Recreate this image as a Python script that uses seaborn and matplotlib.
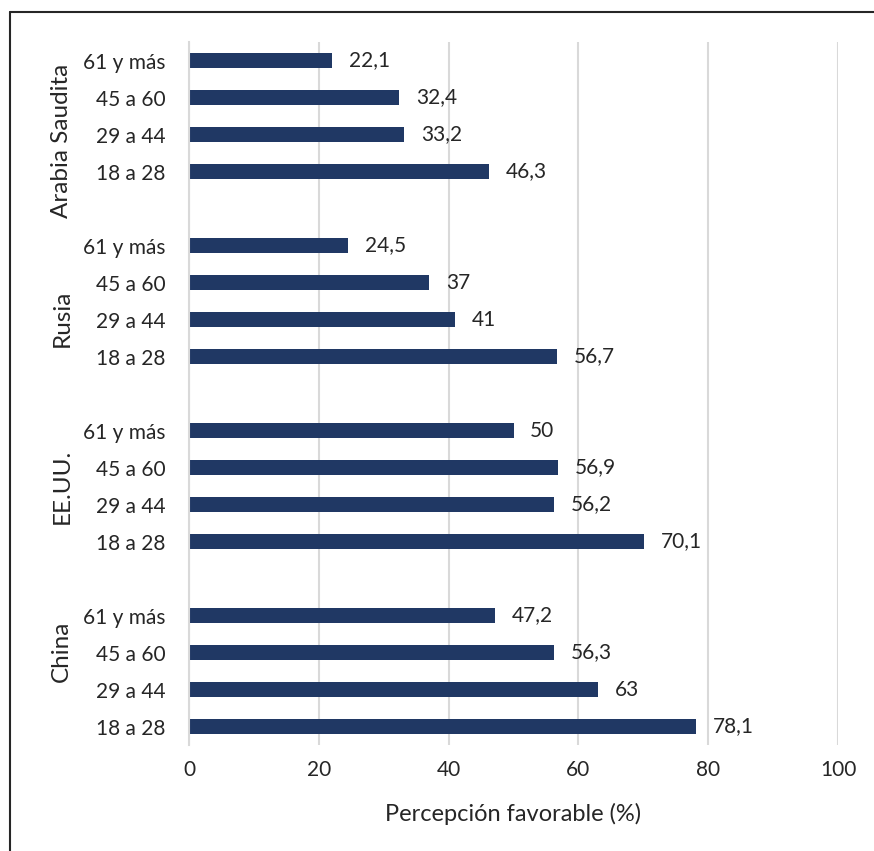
import matplotlib
matplotlib.use("Agg")
import matplotlib.pyplot as plt
import seaborn as sns
import pandas as pd
from matplotlib.lines import Line2D

countries = ["Arabia Saudita", "Rusia", "EE.UU.", "China"]
ages = ["61 y más", "45 a 60", "29 a 44", "18 a 28"]
arabia = [22.1, 32.4, 33.2, 46.3]
rusia = [24.5, 37, 41, 56.7]
eeuu = [50, 56.9, 56.2, 70.1]
china = [47.2, 56.3, 63, 78.1]
values = [arabia, rusia, eeuu, china]
x_ticks = [0, 20, 40, 60, 80, 100]

rows = []
order = []
for ci, (c, vals) in enumerate(zip(countries, values)):
    for a, v in zip(ages, vals):
        key = f"{c}|{a}"
        rows.append({"slot": key, "value": v})
        order.append(key)
    if ci < len(countries) - 1:
        order.append(f"gap{ci}")
df = pd.DataFrame(rows)

sns.set_theme(style="white")
plt.rcParams["font.family"] = ["Lato", "DejaVu Sans"]

W, H = 874, 851
fig = plt.figure(figsize=(W / 100, H / 100), dpi=100)
ax = fig.add_axes([189 / W, 1 - 745 / H, (838 - 189) / W, (745 - 42) / H])

bar_color = "#203864"
sns.barplot(data=df, x="value", y="slot", order=order, color=bar_color,
            width=0.38, saturation=1, orient="h", ax=ax, linewidth=0)

txt = "#262626"
ax.set_xlim(0, 100)
ax.set_ylim(len(order) - 0.5, -0.5)
ax.set_xticks(x_ticks)
ax.set_xticklabels([str(t) for t in x_ticks], fontsize=15, color=txt)
ax.grid(axis="x", color="#D9D9D9", linewidth=1.5)
ax.grid(axis="y", visible=False)
ax.set_axisbelow(True)
for s in ["top", "right", "bottom"]:
    ax.spines[s].set_visible(False)
ax.spines["left"].set_color("#D9D9D9")
ax.spines["left"].set_linewidth(1.5)
ax.tick_params(axis="both", length=0)
ax.tick_params(axis="x", pad=11)

ylabels = [s.split("|")[1] if "|" in s else "" for s in order]
ax.set_yticks(range(len(order)))
ax.set_yticklabels(ylabels, fontsize=15, color=txt)
ax.tick_params(axis="y", pad=17)
ax.set_ylabel("")
ax.set_xlabel("Percepción favorable (%)", fontsize=17, color=txt, labelpad=16)

def fmt(v):
    s = f"{v:.1f}"
    if s.endswith(".0"):
        s = s[:-2]
    return s.replace(".", ",")

for i, s in enumerate(order):
    if "|" not in s:
        continue
    v = df.loc[df.slot == s, "value"].iloc[0]
    ax.annotate(fmt(v), (v, i), xytext=(12, 0), textcoords="offset points",
                va="center", ha="left", fontsize=15, color=txt)

# group labels (placed where the reference draws them)
group_label_pos = [2.18, 6.96, 11.5, 15.96]
for c, yp in zip(countries, group_label_pos):
    ax.text(-0.196, yp, c, transform=ax.get_yaxis_transform(),
            rotation=90, ha="center", va="center", fontsize=17.5, color=txt)

# frame (left and top edges)
fig.add_artist(Line2D([10 / W, 10 / W], [0, 1 - 12 / H], transform=fig.transFigure,
                      color=txt, linewidth=1.5))
fig.add_artist(Line2D([10 / W, 1], [1 - 12 / H, 1 - 12 / H], transform=fig.transFigure,
                      color=txt, linewidth=1.5))

fig.savefig("out.png", dpi=100, facecolor="white")
